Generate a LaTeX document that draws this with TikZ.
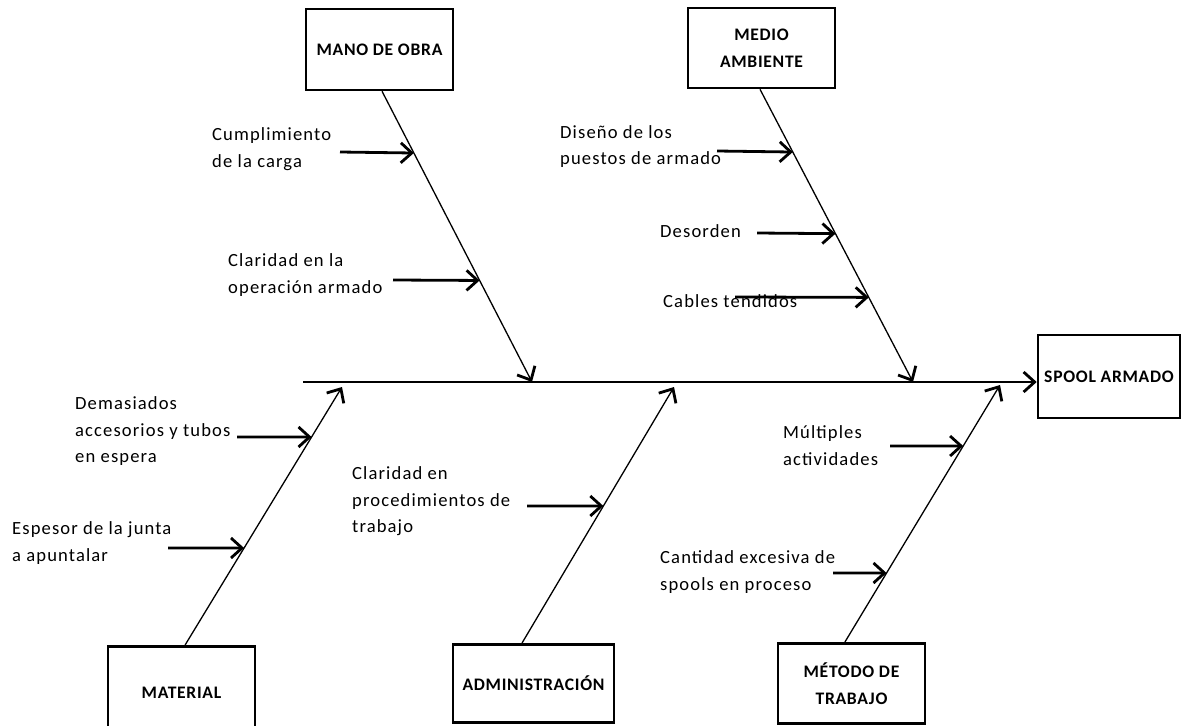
\documentclass[tikz,border=0pt]{standalone}
\usepackage{fontspec}
\setmainfont{Carlito}
\newfontfamily\labfont[LetterSpace=6]{Carlito}
\newfontfamily\boxfont[LetterSpace=4]{Carlito}
\usetikzlibrary{arrows.meta,calc}

\tikzset{
  cause/.style={draw, line width=2.6pt, inner sep=0pt, align=center,
    font=\boxfont\bfseries\fontsize{17.6}{27}\selectfont},
  cue/.style={inner sep=0pt, anchor=west, align=left,
    font=\labfont\fontsize{18.6}{26.5}\selectfont},
  barb/.style={-{Straight Barb[length=11pt,width=20pt,line width=2.8pt]}},
  spine/.style={barb, line width=2.8pt},
  bone/.style={barb, line width=1.3pt},
  twig/.style={barb, line width=2.8pt},
}

\begin{document}
\begin{tikzpicture}[x=1pt,y=-1pt]
\useasboundingbox (0,0) rectangle (1182,725);
\fill[white] (0,0) rectangle (1182,725);

% effect and category boxes
\node[cause, minimum width=142, minimum height=83] (spool) at (1109,376.5) {SPOOL ARMADO};
\node[cause, minimum width=147, minimum height=81] (mano) at (379.5,49.5) {MANO DE OBRA};
\node[cause, minimum width=147, minimum height=80] (medio) at (761.5,48) {MEDIO\\AMBIENTE};
\node[cause, minimum width=147, minimum height=92, anchor=north] (mat) at (181.5,645) {MATERIAL};
\node[cause, minimum width=161, minimum height=78, anchor=north] (adm) at (533.5,643) {ADMINISTRACIÓN};
\node[cause, minimum width=147, minimum height=80, anchor=north] (met) at (851.5,642) {MÉTODO DE\\TRABAJO};

% spine
\coordinate (tail) at (303,382);
\draw[spine] (tail) -- (tail -| spool.west);

% main bones
\coordinate (mtop) at ($(mano.south west)!0.517!(mano.south east)$);
\coordinate (mtip) at (532,382);
\coordinate (etop) at ($(medio.south west)!0.49!(medio.south east)$);
\coordinate (etip) at (913,382);
\coordinate (abot) at ($(mat.north west)!0.524!(mat.north east)$);
\coordinate (atip) at (342,387);
\coordinate (dbot) at ($(adm.north west)!0.43!(adm.north east)$);
\coordinate (dtip) at (674,387);
\coordinate (tbot) at ($(met.north west)!0.456!(met.north east)$);
\coordinate (ttip) at (1000,385);

\draw[bone] (mtop) -- (mtip);
\draw[bone] (etop) -- (etip);
\draw[bone] (abot) -- (atip);
\draw[bone] (dbot) -- (dtip);
\draw[bone] (tbot) -- (ttip);

% causes: labels
\node[cue] (c1) at (212,149) {Cumplimiento\\de la carga};
\node[cue] (c2) at (228,275) {Claridad en la\\operación armado};
\node[cue] (c3) at (560,146.5) {Diseño de los\\puestos de armado};
\node[cue] (c4) at (660,231) {Desorden};
\node[cue] (c5) at (663,301) {Cables tendidos};
\node[cue] (c6) at (75,431.5) {Demasiados\\accesorios y tubos\\en espera};
\node[cue] (c7) at (12,543) {Espesor de la junta\\a apuntalar};
\node[cue] (c8) at (352,501.5) {Claridad en\\procedimientos de\\trabajo};
\node[cue] (c9) at (783,445.5) {Múltiples\\actividades};
\node[cue] (c10) at (660,572) {Cantidad excesiva de\\spools en proceso};

% causes: arrows onto the bones
\coordinate (s1) at (340,152);
\coordinate (s2) at (393,280);
\coordinate (s3) at (717,151);
\coordinate (s4) at (757,233);
\coordinate (s5) at (735,297);
\coordinate (s6) at (237,437);
\coordinate (s7) at (168,548);
\coordinate (s8) at (527,506);
\coordinate (s9) at (890,446);
\coordinate (s10) at (833,573);

\draw[twig] (s1) -- ($(mtop)!0.2123!(mtip)$);
\draw[twig] (s2) -- ($(mtop)!0.6507!(mtip)$);
\draw[twig] (s3) -- ($(etop)!0.2143!(etip)$);
\draw[twig] (s4) -- ($(etop)!0.4932!(etip)$);
\draw[twig] (s5) -- ($(etop)!0.7109!(etip)$);
\draw[twig] (s6) -- ($(abot)!0.8062!(atip)$);
\draw[twig] (s7) -- ($(abot)!0.3760!(atip)$);
\draw[twig] (s8) -- ($(dbot)!0.5352!(dtip)$);
\draw[twig] (s9) -- ($(tbot)!0.7626!(ttip)$);
\draw[twig] (s10) -- ($(tbot)!0.2685!(ttip)$);
\end{tikzpicture}
\end{document}
